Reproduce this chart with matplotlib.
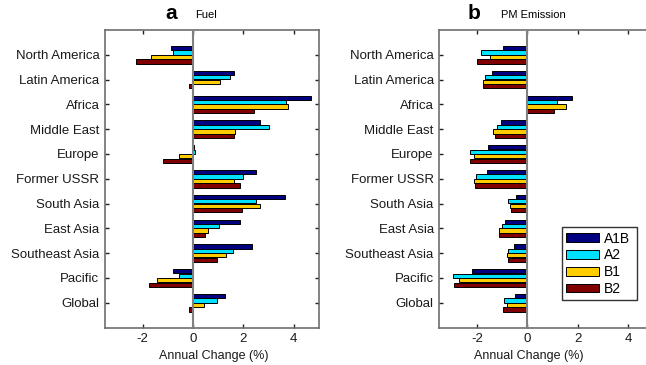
import matplotlib
matplotlib.use("Agg")
import matplotlib.pyplot as plt
import numpy as np

plt.rcParams['font.family'] = ['Liberation Sans', 'DejaVu Sans']

regions = ["North America", "Latin America", "Africa", "Middle East", "Europe",
           "Former USSR", "South Asia", "East Asia", "Southeast Asia", "Pacific", "Global"]
scenarios = ["A1B", "A2", "B1", "B2"]
colors = ["#000080", "#00e1ff", "#ffcc00", "#800000"]

fuel_A1B = [-0.86, 1.64, 4.67, 2.67, 0.05, 2.50, 3.64, 1.86, 2.34, -0.78, 1.28]
fuel_A2  = [-0.78, 1.47, 3.68, 3.00, 0.09, 2.00, 2.50, 1.03, 1.57, -0.57, 0.95]
fuel_B1  = [-1.67, 1.05, 3.76, 1.68, -0.57, 1.64, 2.67, 0.58, 1.32, -1.42, 0.42]
fuel_B2  = [-2.28, -0.17, 2.42, 1.64, -1.18, 1.86, 1.93, 0.46, 0.95, -1.75, -0.17]

pm_A1B = [-0.97, -1.42, 1.78, -1.05, -1.58, -1.62, -0.45, -0.89, -0.53, -2.20, -0.49]
pm_A2  = [-1.83, -1.70, 1.18, -1.21, -2.30, -2.05, -0.76, -1.01, -0.76, -2.97, -0.92]
pm_B1  = [-1.47, -1.75, 1.53, -1.38, -2.11, -2.11, -0.71, -1.13, -0.80, -2.72, -0.80]
pm_B2  = [-1.99, -1.75, 1.07, -1.29, -2.28, -2.07, -0.64, -1.13, -0.76, -2.93, -0.97]

fig = plt.figure(figsize=(6.46, 3.65), dpi=100)
W, H = 646, 365
axA = fig.add_axes([105 / W, 1 - 327.5 / H, 214 / W, 297.5 / H])
axB = fig.add_axes([439.3 / W, 1 - 327.5 / H, 214 / W, 297.5 / H])

ypos = np.arange(1, len(regions) + 1)
offsets = [-0.27, -0.09, 0.09, 0.27]
spine_col = "#6e6e6e"

def draw(ax, series, letter, title, xlabel_x, letter_x, title_x):
    for vals, off, col, name in zip(series, offsets, colors, scenarios):
        ax.barh(ypos + off, vals, height=0.17, color=col, edgecolor="black",
                linewidth=0.7, label=name, zorder=3)
    ax.axvline(0, color="#808080", linewidth=1.5, zorder=4)
    ax.set_xlim(-3.5, 5)
    ax.set_ylim(12, 0)
    ax.set_yticks(ypos)
    ax.set_yticklabels(regions, fontsize=9.5, color="#1a1a1a")
    ax.set_xticks([-2, 0, 2, 4])
    ax.set_xticklabels(["-2", "0", "2", "4"], fontsize=9.5, color="#1a1a1a")
    ax.tick_params(direction="in", length=3, width=1, top=True, right=True,
                   color="#222222", pad=4)
    for s in ax.spines.values():
        s.set_color(spine_col)
        s.set_linewidth(1.2)
    ax.set_xlabel("Annual Change (%)", fontsize=9, color="#1a1a1a", labelpad=2)
    ax.xaxis.set_label_coords(xlabel_x, -0.075)
    ax.text(letter_x, 1.025, letter, transform=ax.transAxes, fontsize=15,
            fontweight="bold", ha="center", va="bottom")
    ax.text(title_x, 1.035, title, transform=ax.transAxes, fontsize=8,
            ha="left", va="bottom")

draw(axA, [fuel_A1B, fuel_A2, fuel_B1, fuel_B2], "a", "Fuel", 0.51, 0.31, 0.42)
draw(axB, [pm_A1B, pm_A2, pm_B1, pm_B2], "b", "PM Emission", 0.42, 0.16, 0.29)

leg = axB.legend(loc="lower left", bbox_to_anchor=(0.573, 0.092, 0.351, 0.246),
                 mode="expand", fontsize=10, frameon=True, fancybox=False,
                 handlelength=2.4, handleheight=0.6, handletextpad=0.3,
                 labelspacing=0.2, borderpad=0.3, borderaxespad=0)
leg.get_frame().set_edgecolor("black")
leg.get_frame().set_linewidth(1.0)

fig.savefig("out.png", dpi=100)
